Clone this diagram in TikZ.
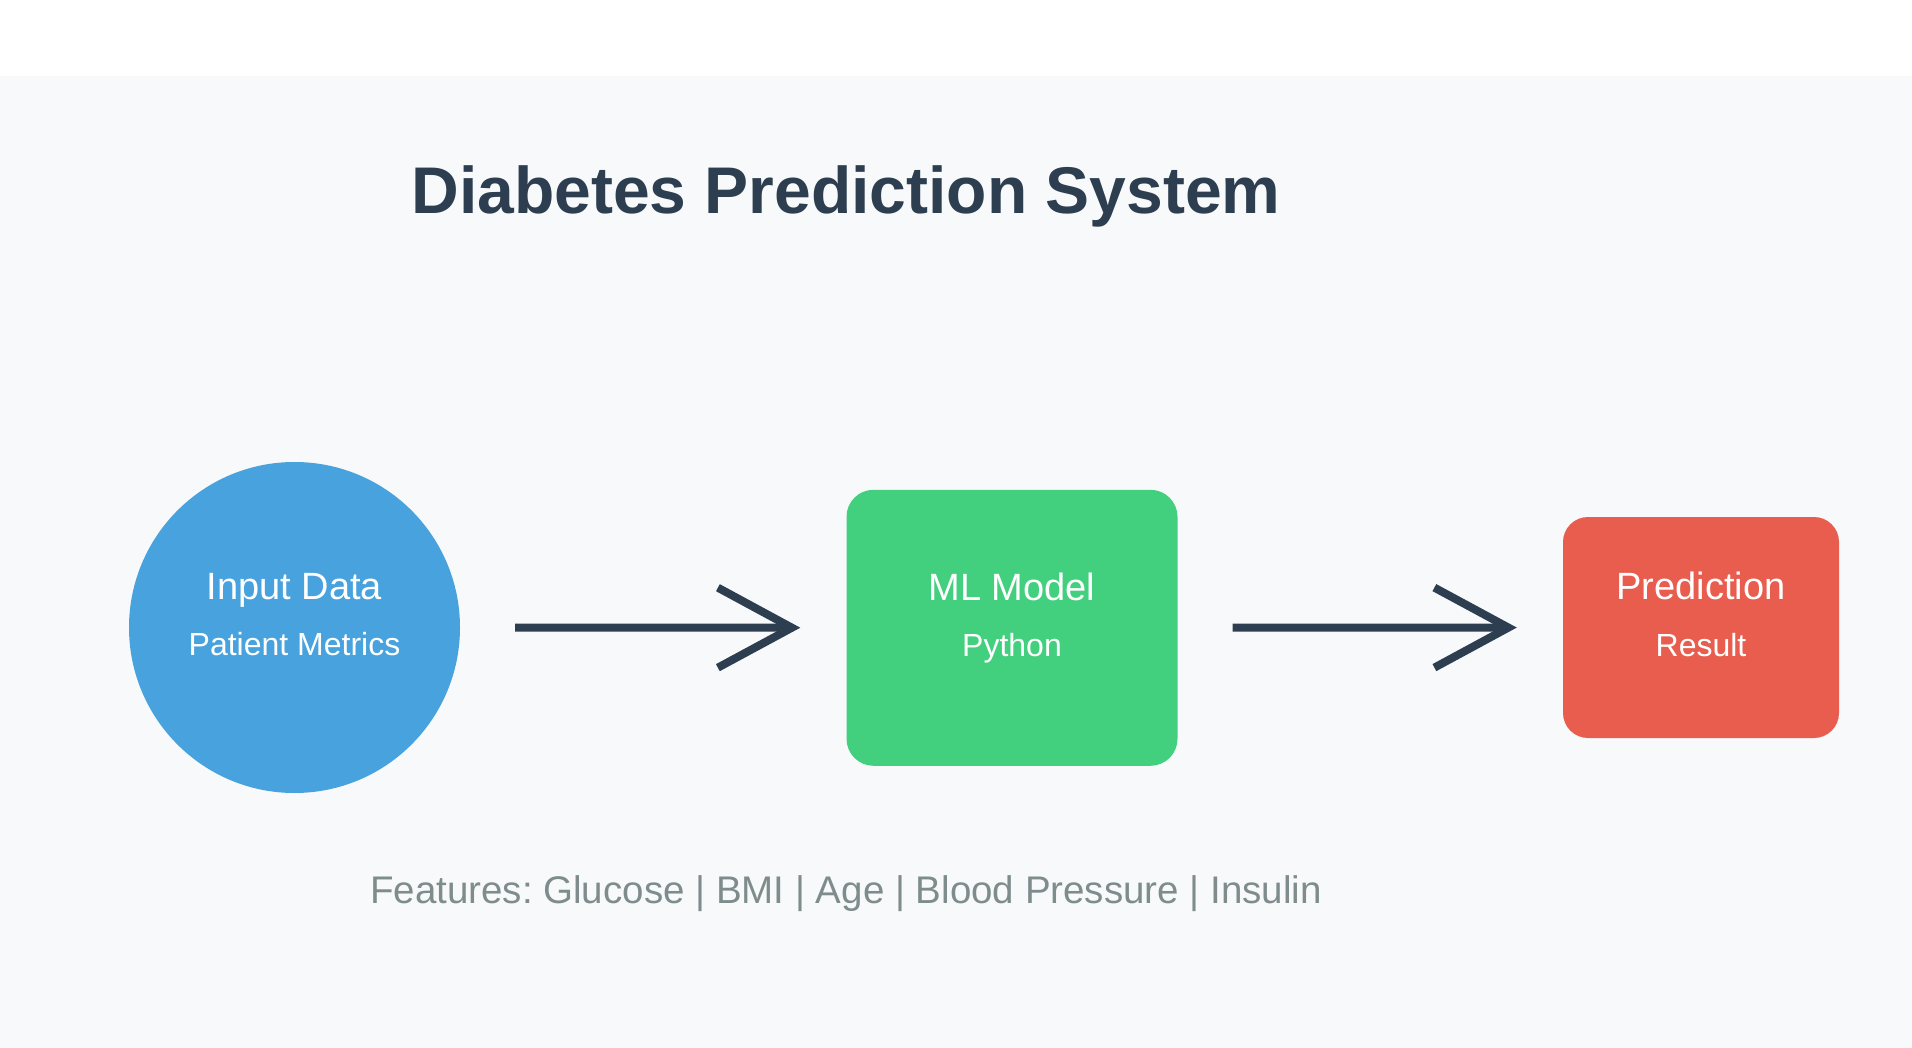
\documentclass[tikz,border=0pt]{standalone}
\usepackage{fontspec}
\setmainfont{Liberation Sans}
\usetikzlibrary{arrows.meta}
\frenchspacing
\definecolor{bgc}{HTML}{F8F9FA}
\definecolor{cblue}{HTML}{48A2DE}
\definecolor{cgreen}{HTML}{42D07F}
\definecolor{cred}{HTML}{E95D4F}
\definecolor{dark}{HTML}{2C3E50}
\definecolor{graytxt}{HTML}{7F8C8D}
\tikzset{
  boxlbl/.style={text=white, anchor=base, inner sep=0pt, font=\fontsize{38}{40}\selectfont},
  sublbl/.style={text=white, anchor=base, inner sep=0pt, font=\fontsize{32}{34}\selectfont},
  flow/.style={draw=dark, line width=8pt, line cap=butt,
    -{Straight Barb[length=74pt, width=80pt, line width=8pt]}},
}
\begin{document}
\begin{tikzpicture}[x=1pt,y=-1pt]
\useasboundingbox (0,0) rectangle (1912,1048);
\fill[white] (0,0) rectangle (1912,1048);
\fill[bgc] (0,76) rectangle (1912,1048);

\node[anchor=base, inner sep=0pt, text=dark, font=\fontsize{66}{70}\selectfont\bfseries] (title) at (846,214) {Diabetes Prediction System};

\node[circle, fill=cblue, minimum size=331pt, inner sep=0pt] (in) at (294.5,627.5) {};
\node[boxlbl] (inA) at (294.5,599) {Input Data};
\node[sublbl] (inB) at (294.5,655) {Patient Metrics};

\node[rectangle, rounded corners=27pt, fill=cgreen, minimum width=331pt, minimum height=276pt, inner sep=0pt] (ml) at (1012,627.8) {};
\node[boxlbl] (mlA) at (1012,600) {ML Model};
\node[sublbl] (mlB) at (1012,656) {Python};

\node[rectangle, rounded corners=25pt, fill=cred, minimum width=276pt, minimum height=221pt, inner sep=0pt] (pr) at (1701,627.5) {};
\node[boxlbl] (prA) at (1701,599) {Prediction};
\node[sublbl] (prB) at (1701,656) {Result};

\draw[flow, shorten <=55pt, shorten >=46pt] (in) -- (ml);
\draw[flow, shorten <=55pt, shorten >=46pt] (ml) -- (pr);

\node[anchor=base, inner sep=0pt, text=graytxt, font=\fontsize{38.5}{40}\selectfont] (feat) at (846,903) {Features: Glucose | BMI | Age | Blood Pressure | Insulin};
\end{tikzpicture}
\end{document}
